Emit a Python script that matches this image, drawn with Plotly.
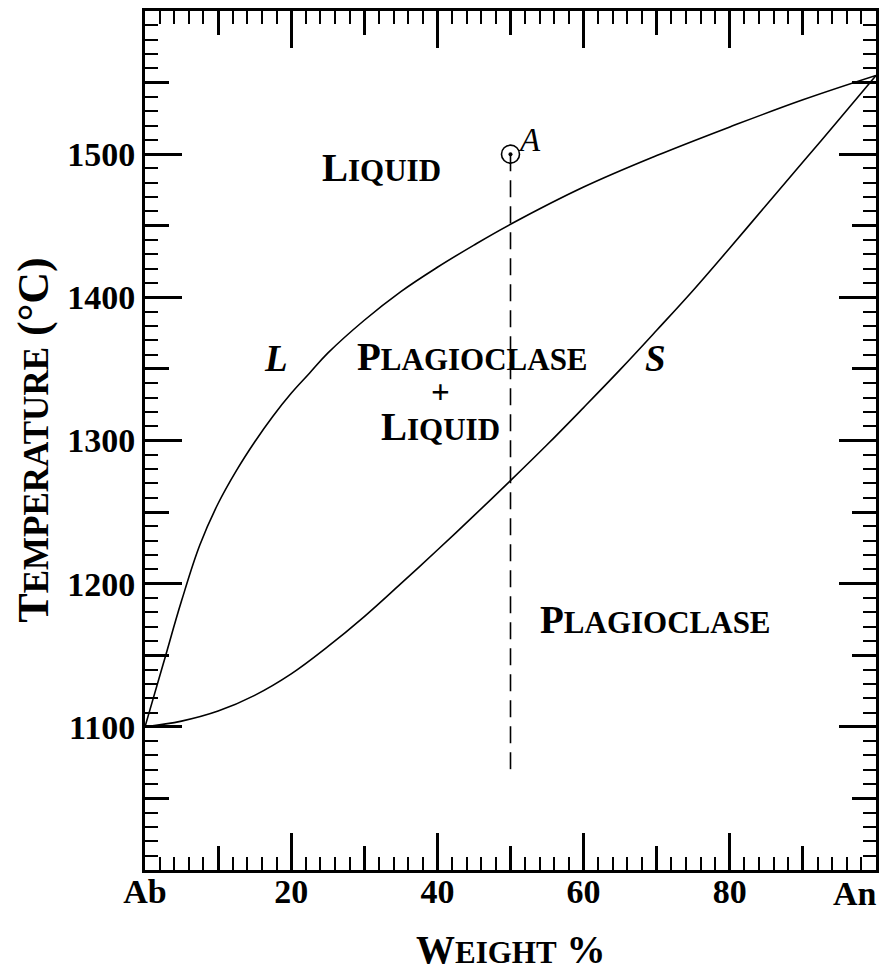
import plotly.graph_objects as go

# ---- data ----
liq_x = [0, 2.5, 5, 7.5, 10, 12.5, 15, 17.5, 20, 22.5, 25, 30, 35, 40, 45, 50, 60, 70, 80, 90, 100]
liq_t = [1100, 1144, 1188, 1227, 1256, 1279, 1299, 1317, 1333, 1347, 1361, 1384, 1404, 1421, 1436.5, 1451, 1477, 1499, 1519, 1538, 1555]

sol_x = [0, 5, 10, 15, 20, 25, 30, 35, 40, 45, 50, 55, 60, 65, 70, 75, 80, 85, 90, 95, 100]
sol_t = [1100, 1104, 1111, 1122, 1137, 1156, 1177, 1200, 1223.5, 1247.5, 1272, 1297, 1323, 1349.5, 1377, 1405, 1434.5, 1464.5, 1494.5, 1524.5, 1555]

bulk_x = [50, 50]          # composition A
bulk_t = [1500, 1070]      # isopleth from A downwards
point_a_x = [50]
point_a_t = [1500]

x_tickvals = [0, 20, 40, 60, 80, 100]
x_ticktext = ["Ab", "20", "40", "60", "80", ""]
x_end_label = "An"
y_tickvals = [1100, 1200, 1300, 1400, 1500]
x_mid_ticks = [10, 30, 50, 70, 90]
y_mid_ticks = [1050, 1150, 1250, 1350, 1450, 1550]

FONT = "Liberation Serif"
BIG = 39
SMALL = 31


def sc(first, rest, tail="", small=SMALL):
    return f'{first}<span style="font-size:{small}px">{rest}</span>{tail}'


fig = go.Figure()

fig.add_trace(go.Scatter(x=liq_x, y=liq_t, mode="lines",
                         line=dict(color="black", width=1.6, shape="spline", smoothing=1.1),
                         showlegend=False, hoverinfo="skip"))
fig.add_trace(go.Scatter(x=sol_x, y=sol_t, mode="lines",
                         line=dict(color="black", width=1.6, shape="spline", smoothing=1.1),
                         showlegend=False, hoverinfo="skip"))
# dashed isopleth on the overlay axes (same ranges)
fig.add_trace(go.Scatter(x=bulk_x, y=bulk_t, mode="lines", xaxis="x2", yaxis="y2",
                         line=dict(color="black", width=1.6, dash="17px,9px"),
                         showlegend=False, hoverinfo="skip"))
fig.add_trace(go.Scatter(x=point_a_x, y=point_a_t, mode="markers",
                         marker=dict(symbol="circle", size=18, color="white",
                                     line=dict(width=1.6, color="black")),
                         showlegend=False, hoverinfo="skip"))
fig.add_trace(go.Scatter(x=point_a_x, y=point_a_t, mode="markers",
                         marker=dict(symbol="circle", size=4, color="black",
                                     line=dict(width=0)),
                         showlegend=False, hoverinfo="skip"))

tickfont = dict(family=FONT, size=34, color="black", weight="bold")

fig.update_layout(
    width=896, height=971,
    margin=dict(l=145, r=20, t=11, b=101, autoexpand=False),
    paper_bgcolor="white", plot_bgcolor="white",
    xaxis=dict(range=[0, 100], showgrid=False, zeroline=False, automargin=False,
               showline=True, linewidth=3, linecolor="black", mirror="allticks",
               ticks="inside", tickmode="array", tickvals=x_tickvals, ticktext=x_ticktext,
               ticklen=37, tickwidth=3, tickcolor="black", tickfont=tickfont,
               ticklabelstandoff=-11,
               minor=dict(dtick=2, tick0=0, ticks="inside", ticklen=13, tickwidth=2, tickcolor="black")),
    yaxis=dict(range=[1000, 1600], showgrid=False, zeroline=False, automargin=False,
               showline=True, linewidth=3, linecolor="black", mirror="allticks",
               ticks="inside", tickmode="array", tickvals=y_tickvals,
               ticklen=37, tickwidth=3, tickcolor="black", tickfont=tickfont,
               ticklabelstandoff=0,
               minor=dict(dtick=10, tick0=1000, ticks="inside", ticklen=13, tickwidth=2, tickcolor="black")),
    xaxis2=dict(range=[0, 100], overlaying="x", anchor="y2", side="bottom", automargin=False,
                showgrid=False, zeroline=False, showline=False, mirror="allticks",
                ticks="inside", tickmode="array", tickvals=x_mid_ticks,
                ticklen=24, tickwidth=3, tickcolor="black", showticklabels=False),
    yaxis2=dict(range=[1000, 1600], overlaying="y", anchor="x2", side="left", automargin=False,
                showgrid=False, zeroline=False, showline=False, mirror="allticks",
                ticks="inside", tickmode="array", tickvals=y_mid_ticks,
                ticklen=24, tickwidth=3, tickcolor="black", showticklabels=False),
)

# end-member label at 100 %, pulled inside the canvas as in the reference
fig.add_annotation(x=100, y=-0.0268, xref="x", yref="paper", text=x_end_label,
                   xanchor="right", yanchor="middle", xshift=3, showarrow=False,
                   font=tickfont)

label_font = dict(family=FONT, size=BIG, color="black", weight="bold")

annotations = [
    dict(x=32.3, y=1491, text=sc("L", "IQUID")),
    dict(x=44.8, y=1359, text=sc("P", "LAGIOCLASE")),
    dict(x=40.4, y=1310, text=sc("L", "IQUID")),
    dict(x=69.8, y=1175, text=sc("P", "LAGIOCLASE")),
]
for a in annotations:
    fig.add_annotation(x=a["x"], y=a["y"], xref="x", yref="y", text=a["text"],
                       showarrow=False, xanchor="center", yanchor="middle", font=label_font)
fig.add_annotation(x=40.4, y=1334, xref="x", yref="y", text="+", showarrow=False,
                   xanchor="center", yanchor="middle",
                   font=dict(family=FONT, size=33, color="black", weight="bold"))

fig.add_annotation(x=17.9, y=1357, xref="x", yref="y", text="<i>L</i>", showarrow=False,
                   font=dict(family=FONT, size=37, color="black", weight="bold"))
fig.add_annotation(x=69.9, y=1357, xref="x", yref="y", text="<i>S</i>", showarrow=False,
                   font=dict(family=FONT, size=37, color="black", weight="bold"))
fig.add_annotation(x=52.6, y=1510, xref="x", yref="y", text="<i>A</i>", showarrow=False,
                   font=dict(family=FONT, size=33, color="black"))

# axis titles
fig.add_annotation(x=0.5, y=-0.1187, xref="paper", yref="paper", yanchor="bottom",
                   borderpad=0,
                   text=sc("W", "EIGHT", " %"), showarrow=False, font=label_font)
fig.add_annotation(x=-0.153, y=0.5, xref="paper", yref="paper", xanchor="center",
                   text=sc("T", "EMPERATURE", " (°C)", small=35), textangle=-90, showarrow=False,
                   font=dict(family=FONT, size=44, color="black", weight="bold"))

fig.write_html("out.html")
